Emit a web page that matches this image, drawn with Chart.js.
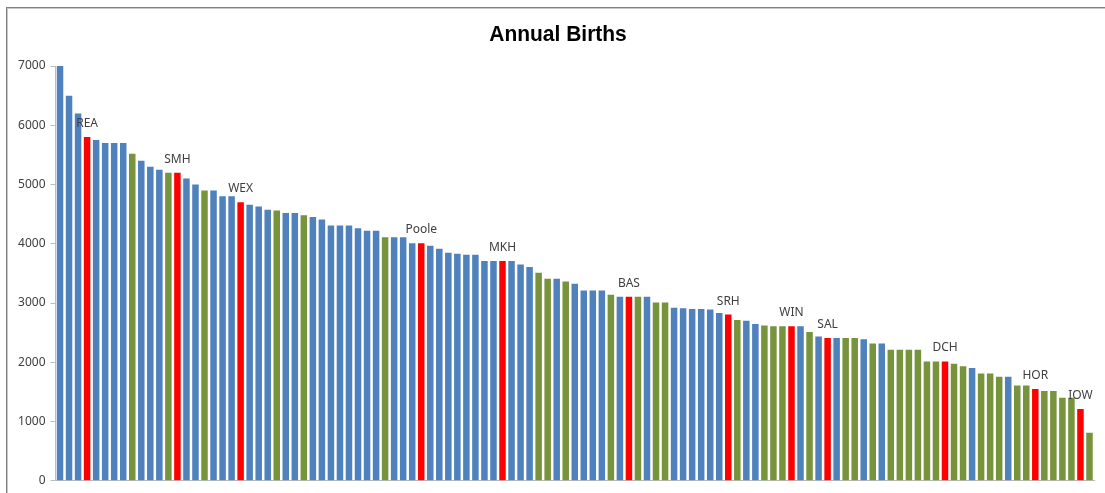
<!DOCTYPE html>
<html>
<head>
<meta charset="utf-8">
<title>Annual Births</title>
<script src="https://cdn.jsdelivr.net/npm/chart.js@4.4.1/dist/chart.umd.min.js"></script>
<style>
  html, body { margin: 0; padding: 0; background: #ffffff; overflow: hidden; }
  #wrap { position: relative; width: 1105px; height: 493px; }
  #frame {
    position: absolute; left: 6px; top: 7px; width: 1200px; height: 600px;
    border-top: 1px solid #7f7f7f; border-left: 1px solid #7f7f7f;
  }
  #frame::after {
    content: ""; position: absolute; left: 0; top: 0; right: 0; bottom: 0;
    border-top: 1px solid #c8c8c8; border-left: 1px solid #c8c8c8;
  }
  #chart { position: absolute; left: 0; top: 0; }
</style>
</head>
<body>
<div id="wrap">
  <div id="frame"></div>
  <canvas id="chart" width="1105" height="493"></canvas>
</div>
<script>
// Annual births per maternity unit, sorted from largest to smallest.
const births = [
  7000, 6500, 6200, 5800, 5750, 5700, 5700, 5700, 5520, 5400,
  5300, 5250, 5200, 5200, 5100, 5000, 4900, 4900, 4800, 4800,
  4700, 4660, 4630, 4575, 4560, 4520, 4520, 4480, 4450, 4410,
  4310, 4310, 4310, 4260, 4220, 4220, 4110, 4110, 4110, 4010,
  4010, 3965, 3915, 3850, 3830, 3815, 3815, 3710, 3710, 3710,
  3710, 3650, 3610, 3510, 3410, 3410, 3365, 3325, 3210, 3210,
  3210, 3140, 3105, 3105, 3105, 3105, 3010, 3010, 2920, 2910,
  2900, 2900, 2890, 2830, 2805, 2715, 2700, 2645, 2620, 2610,
  2610, 2610, 2610, 2510, 2435, 2410, 2410, 2410, 2410, 2390,
  2315, 2315, 2210, 2210, 2210, 2210, 2015, 2015, 2015, 1975,
  1935, 1905, 1810, 1810, 1755, 1755, 1610, 1610, 1550, 1515,
  1515, 1400, 1400, 1210, 810
];

// Unit group: b = other units, g = comparable units, r = named units
const groups = (
  "bbbrbbbbgb" + "bbgrbbgbbb" + "rbbbgbbgbb" + "bbbbbbgbbb" +
  "rbbbbbbbbr" + "bbbggbgbbb" + "bgbrgbggbb" + "bbbbrgbbgg" +
  "grbgbrbggb" + "gbggggggrg" + "gbgggbggrg" + "gggrg"
).split("");

// Names written above the highlighted units
const unitNames = {
  3: "REA", 13: "SMH", 20: "WEX", 40: "Poole", 49: "MKH", 63: "BAS",
  74: "SRH", 81: "WIN", 85: "SAL", 98: "DCH", 108: "HOR", 113: "IOW"
};

const categories = births.map((_, i) => String(i + 1));
const yTicks = [0, 1000, 2000, 3000, 4000, 5000, 6000, 7000];
const chartTitle = "Annual Births";

const groupColors = { b: "#4F81BD", g: "#77933C", r: "#FF0000" };
const barColors = groups.map(g => groupColors[g]);

// Unit names above their bars, plus the heading
const annotationPlugin = {
  id: "annotations",
  afterDatasetsDraw(chart) {
    const meta = chart.getDatasetMeta(0);
    const ctx = chart.ctx;
    ctx.save();
    ctx.font = "12px 'Noto Sans', sans-serif";
    ctx.fillStyle = "#404040";
    ctx.textAlign = "center";
    ctx.textBaseline = "alphabetic";
    Object.keys(unitNames).forEach(k => {
      const el = meta.data[Number(k)];
      if (el) ctx.fillText(unitNames[k], el.x, el.y - 10);
    });
    ctx.restore();
  },
  afterDraw(chart) {
    const ctx = chart.ctx;
    ctx.save();
    ctx.font = "bold 22px 'Liberation Sans', Arial, sans-serif";
    ctx.fillStyle = "#000000";
    ctx.textAlign = "center";
    ctx.textBaseline = "alphabetic";
    const w = ctx.measureText(chartTitle).width;
    const sx = Math.min(1, 137.5 / w);
    ctx.translate(558, 41);
    ctx.scale(sx, 1);
    ctx.fillText(chartTitle, 0, 0);
    ctx.restore();
  }
};

new Chart(document.getElementById("chart"), {
  type: "bar",
  data: {
    labels: categories,
    datasets: [{
      data: births,
      backgroundColor: barColors,
      borderWidth: 0,
      barPercentage: 0.72,
      categoryPercentage: 1.0
    }]
  },
  options: {
    responsive: false,
    animation: false,
    devicePixelRatio: 1,
    layout: { padding: { left: 0, right: 11, top: 66, bottom: 11 } },
    plugins: {
      legend: { display: false },
      tooltip: { enabled: false },
      title: { display: false }
    },
    scales: {
      x: {
        offset: true,
        ticks: { display: false },
        grid: { display: false, drawTicks: false },
        border: { display: true, color: "#bcbcbc", width: 1 }
      },
      y: {
        min: 0,
        max: 7000,
        afterBuildTicks(scale) { scale.ticks = yTicks.map(v => ({ value: v })); },
        afterFit(scale) { scale.width = 55.5; },
        ticks: {
          color: "#404040",
          padding: 5,
          font: { family: "'Noto Sans', sans-serif", size: 12 },
          callback: v => String(v)
        },
        grid: { display: true, drawOnChartArea: false, drawTicks: true, tickLength: 5, color: "#bcbcbc" },
        border: { display: true, color: "#bcbcbc", width: 1 }
      }
    }
  },
  plugins: [annotationPlugin]
});
</script>
</body>
</html>
